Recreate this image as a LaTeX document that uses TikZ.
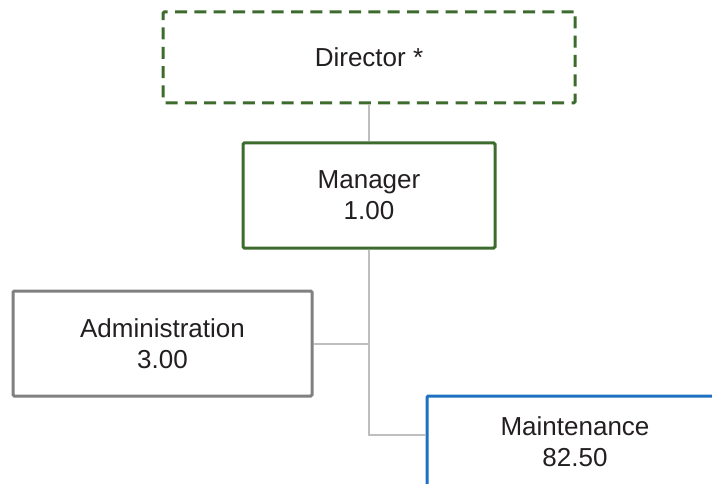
\documentclass[tikz,border=0pt]{standalone}
\usepackage{fontspec}
\setmainfont{Liberation Sans}
\usepackage{tikz}
\usetikzlibrary{positioning,calc}
\definecolor{orggreen}{RGB}{61,107,46}
\definecolor{orggray}{RGB}{128,128,128}
\definecolor{orgblue}{RGB}{30,112,192}
\definecolor{orgline}{RGB}{190,190,190}
\definecolor{orgtext}{RGB}{35,31,32}

\begin{document}
\begin{tikzpicture}[x=0.75pt, y=-0.75pt, orgbox/.style={draw, fill=white, line width=2.25pt, rounded corners=1pt, inner sep=0pt, align=center, text=orgtext, font=\fontsize{19.5}{23.25}\selectfont}, link/.style={draw=orgline, line width=1.5pt}]
\useasboundingbox (0,0) rectangle (712,484);
\clip (0,0) rectangle (712,484);
\node[orgbox, draw=orggreen, dash pattern=on 9pt off 5.5pt, minimum width=309pt, minimum height=68.25pt] (director) at (369,57.5) {Director *};
\node[orgbox, draw=orggreen, minimum width=189pt, minimum height=78.75pt] (manager) at (369,195.5) {Manager\\1.00};
\node[orgbox, draw=orggray, minimum width=224.25pt, minimum height=78.75pt] (admin) at (162.5,343.5) {Administration\\3.00};
\node[orgbox, draw=orgblue, minimum width=222pt, minimum height=69pt] (maint) at (575,442) {Maintenance\\82.50};
\coordinate (mjoin) at (369,435);
\draw[link] (director.south) -- (manager.north);
\draw[link] (manager.south) -- (mjoin) -- (mjoin -| maint.west);
\draw[link] (admin.east) -- (admin.east -| manager.south);
\end{tikzpicture}
\end{document}
